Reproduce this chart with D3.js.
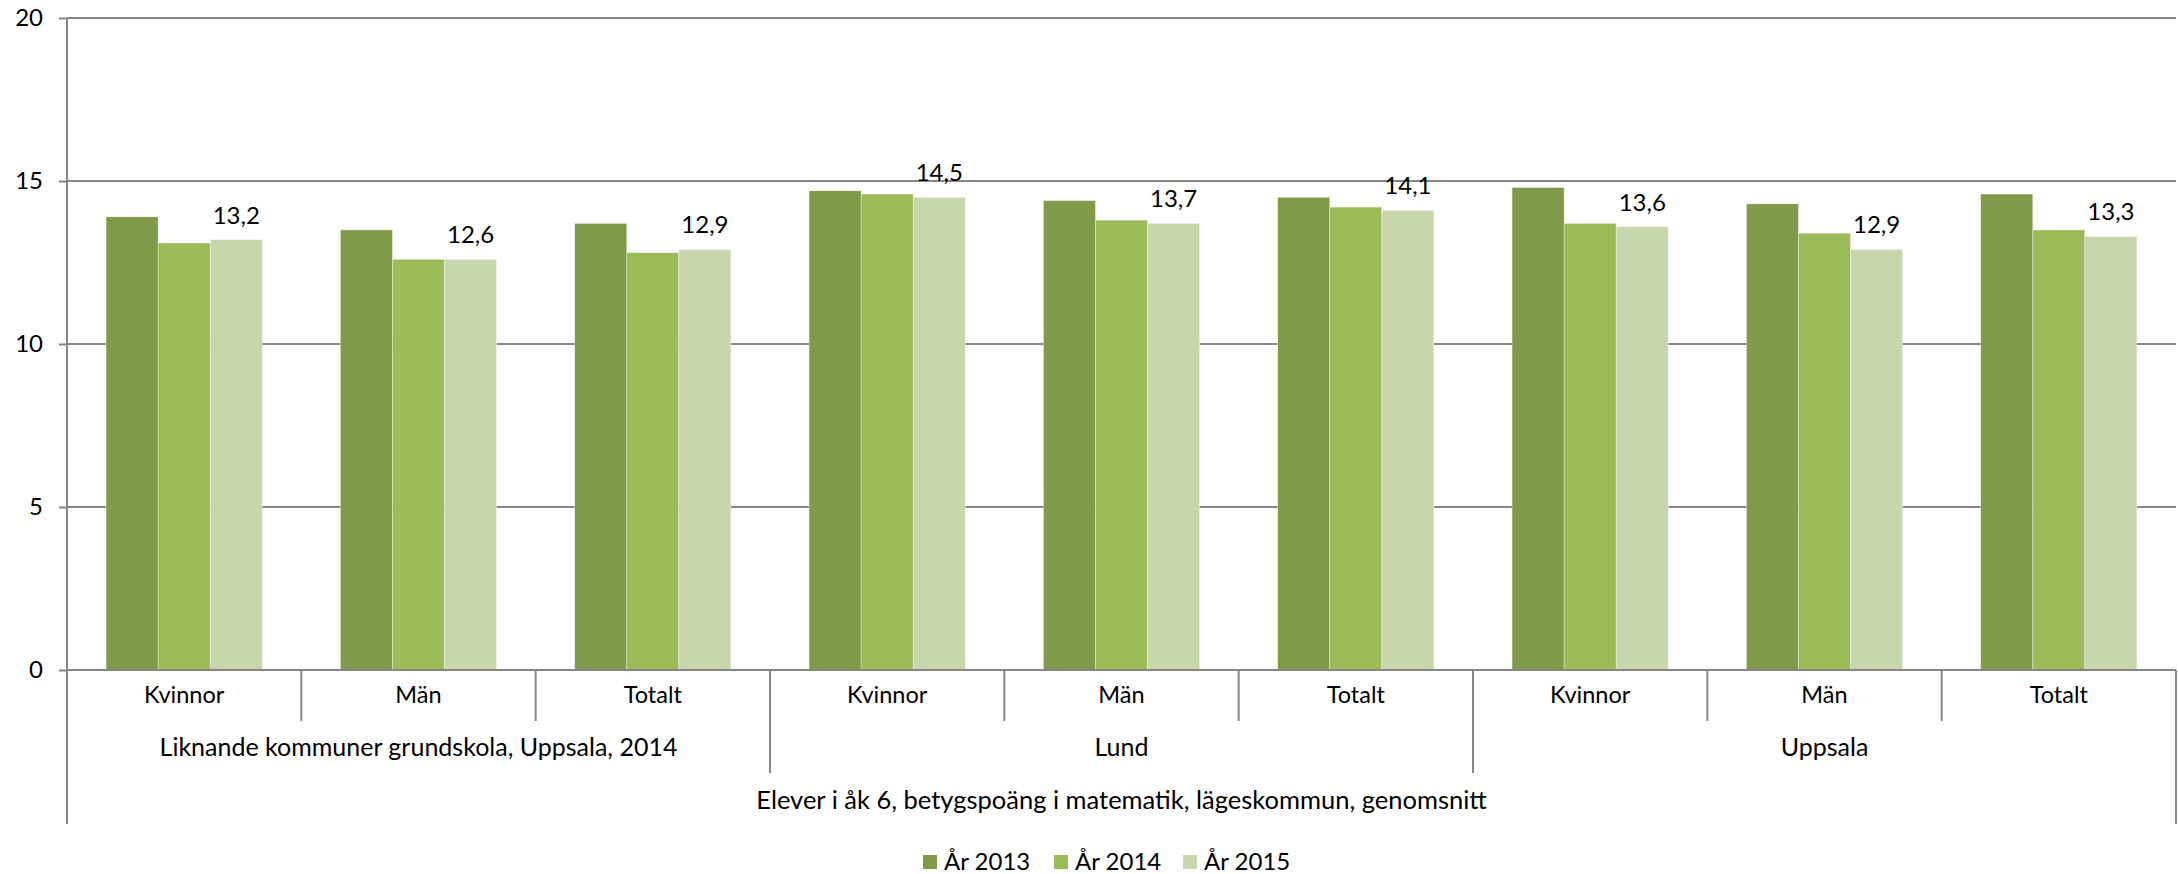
<!DOCTYPE html>
<html>
<head>
<meta charset="utf-8">
<script src="https://cdn.jsdelivr.net/npm/d3@7"></script>
<style>
  body { margin: 0; background: #fff; }
  text { font-family: Lato, "Open Sans", sans-serif; fill: #000; }
</style>
</head>
<body>
<svg id="chart"></svg>
<script>
// data
const groups = ["Liknande kommuner grundskola, Uppsala, 2014", "Lund", "Uppsala"];
const subcats = ["Kvinnor", "Män", "Totalt"];
const years = ["År 2013", "År 2014", "År 2015"];
const values2013 = [13.9, 13.5, 13.7, 14.7, 14.4, 14.5, 14.8, 14.3, 14.6];
const values2014 = [13.1, 12.6, 12.8, 14.6, 13.8, 14.2, 13.7, 13.4, 13.5];
const values2015 = [13.2, 12.6, 12.9, 14.5, 13.7, 14.1, 13.6, 12.9, 13.3];
const yTicks = [0, 5, 10, 15, 20];
const axisTitle = "Elever i åk 6, betygspoäng i matematik, lägeskommun, genomsnitt";

const colors = ["#7f9a48", "#9bbb59", "#c7d6ad"];
const series = [values2013, values2014, values2015];

const W = 2178, H = 874;
const margin = { top: 18, right: 2, bottom: 204, left: 67 };
const width = W - margin.left - margin.right;
const height = H - margin.top - margin.bottom;

const svg = d3.select("#chart").attr("width", W).attr("height", H);
const g = svg.append("g").attr("transform", "translate(" + margin.left + "," + margin.top + ")");

// one row per category
const rows = [];
groups.forEach((grp, gi) => {
  subcats.forEach((sc, si) => {
    const i = gi * subcats.length + si;
    rows.push({ key: i, group: grp, sub: sc, vals: series.map(s => s[i]) });
  });
});

const x0 = d3.scaleBand().domain(rows.map(d => d.key)).range([0, width]).padding(0);
const x1 = d3.scaleBand().domain(years).range([0, x0.bandwidth()]).paddingInner(0).paddingOuter(0.75);
const y = d3.scaleLinear().domain([0, 20]).range([height, 0]);

const grey = "#868686";

// gridlines + y axis
const yAxis = d3.axisLeft(y).tickValues(yTicks).tickSize(8).tickPadding(16);
const ya = g.append("g").call(yAxis);
ya.select(".domain").remove();
ya.selectAll(".tick line").attr("stroke", grey).attr("stroke-width", 2);
ya.selectAll(".tick text").style("font-size", "24px");

g.append("g").selectAll("line")
  .data(yTicks.filter(t => t > 0))
  .enter().append("line")
  .attr("x1", 0).attr("x2", width)
  .attr("y1", d => y(d)).attr("y2", d => y(d))
  .attr("stroke", grey).attr("stroke-width", 2);

// bars
const cat = g.selectAll(".cat").data(rows).enter().append("g")
  .attr("class", "cat")
  .attr("transform", d => "translate(" + x0(d.key) + ",0)");

cat.selectAll("rect")
  .data(d => d.vals.map((v, k) => ({ year: years[k], v: v, k: k })))
  .enter().append("rect")
  .attr("x", d => x1(d.year))
  .attr("y", d => y(d.v))
  .attr("width", x1.bandwidth())
  .attr("height", d => y(0) - y(d.v))
  .attr("fill", d => colors[d.k])
  .attr("stroke", "#fff").attr("stroke-width", 0.6).attr("stroke-opacity", 0.6);

// labels on the 2015 bars
cat.append("text")
  .attr("x", x1(years[2]) + x1.bandwidth() / 2)
  .attr("y", d => y(d.vals[2]) - 16)
  .attr("text-anchor", "middle")
  .style("font-size", "24px")
  .text(d => d3.format(".1f")(d.vals[2]).replace(".", ","));

// y axis line and baseline
g.append("line").attr("x1", 0).attr("x2", 0).attr("y1", 0).attr("y2", height + 154)
  .attr("stroke", grey).attr("stroke-width", 2);
g.append("line").attr("x1", width).attr("x2", width).attr("y1", height).attr("y2", height + 154)
  .attr("stroke", grey).attr("stroke-width", 2);
g.append("line").attr("x1", 0).attr("x2", width).attr("y1", height).attr("y2", height)
  .attr("stroke", grey).attr("stroke-width", 2);

// category separators
const sepAt = d3.range(1, rows.length);
g.append("g").selectAll("line").data(sepAt).enter().append("line")
  .attr("x1", d => x0(d)).attr("x2", d => x0(d))
  .attr("y1", height)
  .attr("y2", d => d % subcats.length === 0 ? height + 103 : height + 51)
  .attr("stroke", grey).attr("stroke-width", 2);

// subcategory labels
g.append("g").selectAll("text").data(rows).enter().append("text")
  .attr("x", d => x0(d.key) + x0.bandwidth() / 2)
  .attr("y", height + 33)
  .attr("text-anchor", "middle")
  .style("font-size", "23.5px")
  .text(d => d.sub);

// group labels
g.append("g").selectAll("text").data(groups).enter().append("text")
  .attr("x", (d, i) => x0(i * 3) + x0.bandwidth() * 1.5)
  .attr("y", height + 86)
  .attr("text-anchor", "middle")
  .style("font-size", "25px")
  .text(d => d);

// overall label
g.append("text")
  .attr("x", width / 2)
  .attr("y", height + 139)
  .attr("text-anchor", "middle")
  .style("font-size", "25.5px")
  .text(axisTitle);

// legend
const legend = svg.append("g").attr("transform", "translate(923,855)");
const legendX = [0, 131, 260];
years.forEach((yr, i) => {
  const lg = legend.append("g").attr("transform", "translate(" + legendX[i] + ",0)");
  lg.append("rect").attr("width", 14).attr("height", 14).attr("fill", colors[i]);
  lg.append("text").attr("x", 21).attr("y", 15).style("font-size", "24px").text(yr);
});
</script>
</body>
</html>
